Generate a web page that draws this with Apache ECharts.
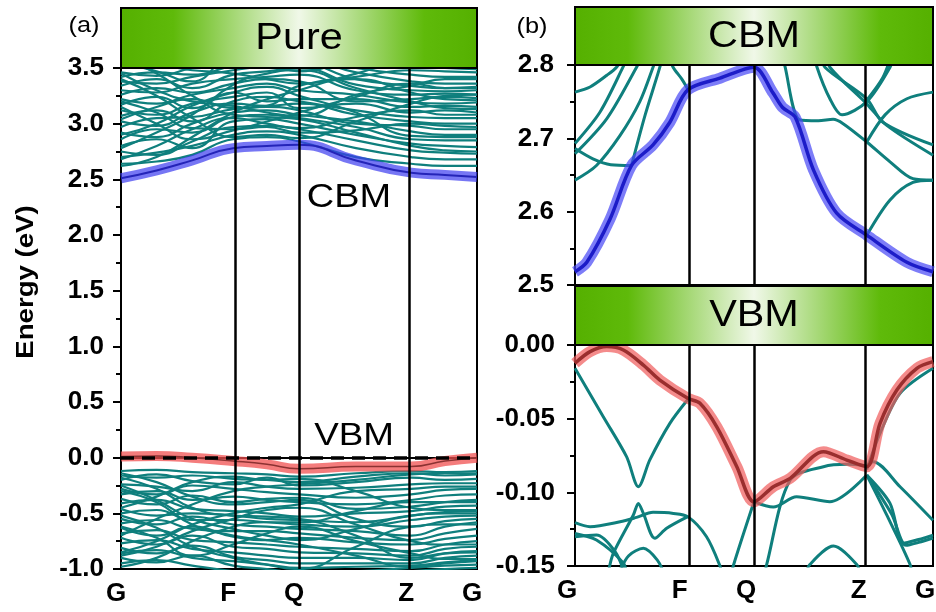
<!DOCTYPE html>
<html>
<head>
<meta charset="utf-8">
<script src="https://cdn.jsdelivr.net/npm/echarts@6/dist/echarts.min.js"></script>
<style>
html, body { margin: 0; padding: 0; background: #fff; }
#main { width: 936px; height: 612px; }
</style>
</head>
<body>
<div id="main"></div>
<script>
var chart = echarts.init(document.getElementById('main'));

// high-symmetry points of the k-path
var kNames = ['G', 'F', 'Q', 'Z', 'G'];
var kTicks = [0, 0.315, 0.5, 0.815, 1];

// (a) full bands, energies sampled at kA
var kA = [0, 0.1, 0.2, 0.315, 0.41, 0.5, 0.66, 0.815, 0.91, 1];
var cbmA = [2.51, 2.58, 2.67, 2.78, 2.80, 2.81, 2.67, 2.56, 2.54, 2.52];
var vbmA = [0.01, 0.015, 0.0, -0.03, -0.06, -0.10, -0.08, -0.08, -0.03, 0.0];

var condA = [
  [2.64, 2.66, 2.72, 2.86, 2.88, 2.84, 2.70, 2.64, 2.62, 2.62],
  [2.70, 2.74, 2.80, 2.90, 2.93, 2.90, 2.78, 2.70, 2.68, 2.68],
  [2.75, 2.72, 2.84, 2.97, 2.98, 2.95, 2.85, 2.76, 2.74, 2.73],
  [2.80, 2.86, 2.78, 3.02, 3.04, 3.00, 2.90, 2.82, 2.80, 2.79],
  [2.86, 2.95, 2.92, 3.06, 3.08, 3.05, 2.97, 2.86, 2.85, 2.85],
  [2.92, 2.88, 3.00, 3.10, 3.12, 3.08, 3.02, 2.93, 2.90, 2.90],
  [2.97, 3.05, 3.06, 3.13, 3.15, 3.12, 3.00, 2.98, 2.95, 2.95],
  [3.02, 2.98, 3.10, 3.18, 3.16, 3.18, 3.08, 3.02, 3.00, 3.00],
  [3.07, 3.12, 3.02, 3.20, 3.24, 3.20, 3.12, 3.06, 3.05, 3.05],
  [3.12, 3.08, 3.18, 3.24, 3.28, 3.14, 3.18, 3.10, 3.12, 3.10],
  [3.17, 3.24, 3.14, 3.28, 3.20, 3.22, 3.22, 3.15, 3.16, 3.15],
  [3.22, 3.18, 3.26, 3.32, 3.36, 3.30, 3.26, 3.19, 3.18, 3.19],
  [3.26, 3.32, 3.28, 3.36, 3.40, 3.38, 3.20, 3.22, 3.24, 3.23],
  [3.30, 3.28, 3.36, 3.40, 3.42, 3.44, 3.30, 3.26, 3.27, 3.26],
  [3.34, 3.40, 3.32, 3.44, 3.47, 3.50, 3.35, 3.30, 3.29, 3.30],
  [3.38, 3.36, 3.42, 3.48, 3.52, 3.54, 3.40, 3.34, 3.32, 3.33],
  [3.42, 3.46, 3.44, 3.52, 3.56, 3.58, 3.46, 3.38, 3.36, 3.36],
  [3.46, 3.43, 3.50, 3.56, 3.60, 3.60, 3.50, 3.44, 3.42, 3.42],
  [3.50, 3.52, 3.48, 3.45, 3.40, 3.36, 3.42, 3.48, 3.47, 3.46],
  [2.68, 2.80, 2.95, 3.05, 3.00, 2.96, 3.06, 3.12, 3.08, 3.08],
  [2.90, 3.00, 3.16, 3.28, 3.33, 3.25, 3.10, 2.89, 2.88, 2.88],
  [3.20, 3.10, 2.96, 2.95, 2.97, 2.92, 2.94, 3.00, 2.98, 2.97],
  [3.45, 3.30, 3.20, 3.16, 3.10, 3.07, 3.26, 3.34, 3.40, 3.40],
  [3.04, 3.15, 3.22, 3.14, 3.16, 3.34, 3.40, 3.28, 3.22, 3.21],
  [2.78, 2.92, 3.08, 3.35, 3.45, 3.48, 3.32, 3.20, 3.14, 3.13],
  [3.55, 3.47, 3.38, 3.60, 3.55, 3.47, 3.55, 3.52, 3.50, 3.49],
  [3.40, 3.25, 3.05, 2.88, 2.90, 2.87, 3.02, 3.18, 3.25, 3.26],
  [2.62, 2.70, 2.88, 3.10, 3.22, 3.30, 3.45, 3.55, 3.55, 3.55],
  [3.60, 3.45, 3.25, 3.08, 3.06, 3.04, 2.92, 2.80, 2.76, 2.75],
  [3.15, 3.00, 2.86, 2.94, 3.02, 3.10, 3.24, 3.36, 3.32, 3.32]
];

var valA = [
  [-0.12, -0.11, -0.13, -0.14, -0.15, -0.17, -0.14, -0.12, -0.13, -0.12],
  [-0.16, -0.18, -0.16, -0.19, -0.20, -0.22, -0.17, -0.14, -0.16, -0.15],
  [-0.20, -0.15, -0.21, -0.24, -0.18, -0.25, -0.22, -0.18, -0.20, -0.19],
  [-0.24, -0.26, -0.30, -0.22, -0.26, -0.28, -0.27, -0.24, -0.23, -0.23],
  [-0.28, -0.33, -0.25, -0.28, -0.31, -0.33, -0.36, -0.33, -0.29, -0.28],
  [-0.33, -0.30, -0.38, -0.35, -0.38, -0.40, -0.42, -0.38, -0.34, -0.33],
  [-0.37, -0.42, -0.34, -0.40, -0.37, -0.36, -0.46, -0.44, -0.40, -0.38],
  [-0.41, -0.38, -0.46, -0.48, -0.50, -0.53, -0.50, -0.48, -0.44, -0.43],
  [-0.46, -0.52, -0.50, -0.52, -0.55, -0.56, -0.58, -0.52, -0.49, -0.48],
  [-0.50, -0.47, -0.56, -0.56, -0.58, -0.60, -0.62, -0.56, -0.53, -0.52],
  [-0.55, -0.60, -0.53, -0.60, -0.62, -0.64, -0.66, -0.70, -0.62, -0.58],
  [-0.59, -0.56, -0.64, -0.66, -0.66, -0.68, -0.72, -0.74, -0.68, -0.64],
  [-0.63, -0.70, -0.62, -0.71, -0.74, -0.72, -0.76, -0.78, -0.73, -0.70],
  [-0.68, -0.65, -0.74, -0.76, -0.78, -0.80, -0.82, -0.84, -0.78, -0.75],
  [-0.72, -0.78, -0.70, -0.80, -0.82, -0.85, -0.86, -0.88, -0.82, -0.80],
  [-0.77, -0.74, -0.82, -0.85, -0.88, -0.90, -0.90, -0.92, -0.86, -0.84],
  [-0.81, -0.86, -0.79, -0.89, -0.92, -0.95, -0.95, -0.95, -0.90, -0.88],
  [-0.86, -0.83, -0.90, -0.93, -0.96, -0.99, -0.98, -0.97, -0.94, -0.92],
  [-0.90, -0.94, -0.88, -0.97, -1.00, -1.03, -1.02, -0.99, -0.97, -0.96],
  [-0.95, -0.92, -0.97, -1.02, -1.05, -1.08, -1.05, -1.02, -1.00, -0.99],
  [-0.14, -0.22, -0.35, -0.42, -0.40, -0.38, -0.55, -0.62, -0.57, -0.55],
  [-0.18, -0.28, -0.45, -0.52, -0.53, -0.55, -0.70, -0.90, -0.86, -0.85],
  [-0.30, -0.40, -0.60, -0.70, -0.74, -0.78, -0.88, -0.98, -0.95, -0.93],
  [-0.52, -0.63, -0.80, -0.90, -0.96, -1.00, -0.80, -0.62, -0.60, -0.60],
  [-0.98, -0.90, -0.75, -0.62, -0.58, -0.58, -0.48, -0.40, -0.40, -0.40],
  [-0.85, -0.75, -0.60, -0.50, -0.45, -0.42, -0.30, -0.28, -0.26, -0.26],
  [-0.70, -0.55, -0.42, -0.30, -0.26, -0.24, -0.20, -0.15, -0.14, -0.14],
  [-0.45, -0.35, -0.22, -0.17, -0.20, -0.19, -0.30, -0.45, -0.47, -0.47],
  [-0.62, -0.72, -0.88, -0.78, -0.68, -0.62, -0.75, -0.86, -0.91, -0.91],
  [-0.88, -0.80, -0.66, -0.55, -0.47, -0.45, -0.60, -0.75, -0.78, -0.78],
  [-0.25, -0.38, -0.55, -0.64, -0.70, -0.74, -0.64, -0.52, -0.50, -0.50]
];

// (b) zoom on the band edges, [k, E] pairs
var cbmB = [[0, 2.518], [0.033, 2.531], [0.098, 2.59], [0.158, 2.663], [0.218, 2.691],
  [0.265, 2.722], [0.315, 2.766], [0.405, 2.782], [0.5, 2.797], [0.553, 2.762],
  [0.58, 2.742], [0.615, 2.729], [0.666, 2.657], [0.731, 2.598], [0.815, 2.568],
  [0.927, 2.531], [1, 2.518]];

var condB = [
  [[0, 2.763], [0.042, 2.77], [0.089, 2.786], [0.116, 2.797], [0.14, 2.815]],
  [[0, 2.693], [0.07, 2.736], [0.134, 2.797], [0.15, 2.815]],
  [[0, 2.679], [0.089, 2.727], [0.172, 2.797], [0.19, 2.815]],
  [[0, 2.686], [0.05, 2.672], [0.1, 2.664], [0.158, 2.663]],
  [[0, 2.643], [0.06, 2.663], [0.126, 2.704], [0.181, 2.75], [0.218, 2.797], [0.23, 2.815]],
  [[0.158, 2.663], [0.196, 2.732], [0.237, 2.797], [0.245, 2.815]],
  [[0.26, 2.815], [0.274, 2.797], [0.298, 2.781], [0.315, 2.767]],
  [[0.582, 2.815], [0.587, 2.797], [0.628, 2.725], [0.68, 2.724], [0.721, 2.726],
    [0.749, 2.72], [0.815, 2.695], [0.88, 2.668], [0.944, 2.645], [1, 2.643]],
  [[0.815, 2.568], [0.88, 2.616], [0.944, 2.64], [1, 2.643]],
  [[0.815, 2.695], [0.866, 2.732], [0.927, 2.754], [1, 2.763]],
  [[0.67, 2.815], [0.676, 2.797], [0.712, 2.754], [0.746, 2.732], [0.815, 2.75],
    [0.88, 2.797], [0.89, 2.815]],
  [[0.69, 2.815], [0.698, 2.797], [0.815, 2.754], [0.86, 2.722], [1, 2.691]],
  [[0.705, 2.815], [0.712, 2.797], [0.815, 2.747], [0.87, 2.718], [1, 2.677]],
  [[0.815, 2.752], [0.86, 2.783], [0.885, 2.815]]
];

var vbmB = [[0, -0.0124], [0.042, -0.0045], [0.089, -0.0011], [0.135, -0.0034],
  [0.191, -0.0136], [0.237, -0.0238], [0.315, -0.0362], [0.349, -0.0396],
  [0.396, -0.0555], [0.452, -0.0826], [0.5, -0.1064], [0.554, -0.0962],
  [0.601, -0.0905], [0.694, -0.0724], [0.759, -0.0781], [0.815, -0.0826],
  [0.852, -0.0532], [0.899, -0.0306], [0.955, -0.0158], [1, -0.0113]];

var valB = [
  [[0, -0.0158], [0.079, -0.0487], [0.144, -0.0758], [0.177, -0.0962], [0.209, -0.078],
    [0.265, -0.0532], [0.315, -0.037]],
  [[0, -0.1206], [0.042, -0.1233], [0.126, -0.12], [0.172, -0.117], [0.218, -0.1136],
    [0.275, -0.1143], [0.315, -0.1165], [0.367, -0.13], [0.405, -0.15], [0.41, -0.156]],
  [[0, -0.1279], [0.06, -0.1324], [0.135, -0.148], [0.145, -0.156]],
  [[0, -0.1302], [0.06, -0.129], [0.112, -0.1403], [0.14, -0.156]],
  [[0.095, -0.152], [0.107, -0.1414], [0.163, -0.1154], [0.177, -0.1075], [0.191, -0.1143],
    [0.223, -0.1312], [0.256, -0.1244], [0.315, -0.1165]],
  [[0.12, -0.156], [0.15, -0.143], [0.191, -0.138], [0.23, -0.146], [0.25, -0.156]],
  [[0.438, -0.156], [0.442, -0.15], [0.5, -0.1064]],
  [[0.5, -0.1064], [0.554, -0.11], [0.619, -0.103], [0.712, -0.1064], [0.815, -0.0883]],
  [[0.53, -0.156], [0.535, -0.1494], [0.601, -0.0917], [0.694, -0.0826], [0.76, -0.081],
    [0.815, -0.082]],
  [[0.645, -0.156], [0.656, -0.149], [0.722, -0.1365], [0.787, -0.149], [0.797, -0.156]],
  [[0.815, -0.0845], [0.852, -0.06], [0.908, -0.0328], [1, -0.0158]],
  [[0.815, -0.082], [0.833, -0.0792], [0.908, -0.0962], [1, -0.119]],
  [[0.815, -0.0883], [0.88, -0.1075], [0.917, -0.1346], [0.96, -0.132], [1, -0.129]],
  [[0.815, -0.0883], [0.885, -0.115], [0.925, -0.136], [0.96, -0.134], [1, -0.131]],
  [[0.815, -0.0883], [0.87, -0.115], [0.936, -0.149], [0.94, -0.156]]
];

var teal = '#0f7f7d';
var font = '"Liberation Sans", Arial, sans-serif';

function pairs(ks, es) {
  return ks.map(function (k, i) { return [k, es[i]]; });
}

function band(g, data, color, width, z, smooth) {
  return {
    type: 'line', xAxisIndex: g, yAxisIndex: g, data: data,
    symbol: 'none', smooth: smooth, z: z, silent: true,
    lineStyle: { color: color, width: width }
  };
}

function kLabel(v) {
  for (var i = 0; i < kTicks.length; i++) {
    if (Math.abs(kTicks[i] - v) < 1e-6) return kNames[i];
  }
  return '';
}

// black verticals at F, Q, Z
function symLines() {
  return {
    silent: true, symbol: 'none', label: { show: false },
    lineStyle: { color: '#000', width: 2.5, type: 'solid' },
    data: kTicks.slice(1, 4).map(function (k) { return { xAxis: k }; })
  };
}

var series = [];

// panel (a)
condA.concat(valA).forEach(function (e, i) {
  var s = band(0, pairs(kA, e), teal, 2.2, 2, true);
  if (i == 0) s.markLine = symLines();
  series.push(s);
});
series.push(band(0, pairs(kA, cbmA), 'rgba(60,60,240,0.7)', 10, 3, true));
series.push(band(0, pairs(kA, cbmA), '#2424b8', 2, 4, true));
series.push(band(0, pairs(kA, vbmA), 'rgba(240,80,80,0.75)', 10, 3, true));
var redA = band(0, pairs(kA, vbmA), '#8c3232', 1.5, 4, true);
redA.markLine = {
  silent: true, symbol: 'none', label: { show: false }, z: 6,
  lineStyle: { color: '#000', width: 3.5, type: [13, 8] },
  data: [{ yAxis: 0 }]
};
series.push(redA);

// panel (b) CBM
condB.forEach(function (d, i) {
  var s = band(1, d, teal, 3, 2, 0.3);
  if (i == 0) s.markLine = symLines();
  series.push(s);
});
series.push(band(1, cbmB, 'rgba(70,70,245,0.7)', 11, 3, 0.3));
series.push(band(1, cbmB, '#1c1cc8', 3.5, 4, 0.3));

// panel (b) VBM
valB.forEach(function (d, i) {
  var s = band(2, d, teal, 3, 2, 0.3);
  if (i == 0) s.markLine = symLines();
  series.push(s);
});
series.push(band(2, vbmB, 'rgba(240,90,90,0.7)', 11, 3, 0.3));
series.push(band(2, vbmB, '#9a2e2e', 3.5, 4, 0.3));

var gridPos = [
  { left: 121, top: 68, width: 356, height: 501 },
  { left: 575, top: 65, width: 358, height: 220 },
  { left: 575, top: 345, width: 358, height: 221 }
];
var yRange = [
  { min: -1, max: 3.5, interval: 0.5, dec: 1, margin: 17 },
  { min: 2.5, max: 2.8, interval: 0.1, dec: 1, margin: 21 },
  { min: -0.15, max: 0, interval: 0.05, dec: 2, margin: 20 }
];
var xShift = [10, 16, 16];

var tickLine = { color: '#000', width: 2 };
var labelFont = { color: '#000', fontSize: 26, fontWeight: 'bold', fontFamily: font };

function header(x, y, w, h, text) {
  return [{
    type: 'rect', z: 100,
    shape: { x: x, y: y, width: w, height: h },
    style: {
      stroke: '#000', lineWidth: 2,
      fill: new echarts.graphic.LinearGradient(0, 0, 1, 0, [
        { offset: 0, color: '#55b000' },
        { offset: 0.15, color: '#5fba0a' },
        { offset: 0.5, color: '#f0f8e8' },
        { offset: 0.85, color: '#5fba0a' },
        { offset: 1, color: '#55b000' }
      ])
    }
  }, {
    type: 'text', z: 101, x: x + w / 2, y: y + h / 2 + 1, scaleX: 1.15,
    style: {
      text: text, fill: '#000', fontSize: 36, fontFamily: font,
      align: 'center', verticalAlign: 'middle',
      textAlign: 'center', textVerticalAlign: 'middle'
    }
  }];
}

function label(x, y, text, size, weight, rot, sx) {
  return {
    type: 'text', z: 101, x: x, y: y, rotation: rot || 0, scaleX: sx || 1.15,
    style: {
      text: text, fill: '#000', fontSize: size, fontWeight: weight, fontFamily: font,
      align: 'center', verticalAlign: 'middle',
      textAlign: 'center', textVerticalAlign: 'middle'
    }
  };
}

var graphics = []
  .concat(header(121, 8, 356, 60, 'Pure'))
  .concat(header(575, 7, 358, 58, 'CBM'))
  .concat(header(575, 286, 358, 59, 'VBM'))
  .concat([
    label(84, 26, '(a)', 22, 'normal'),
    label(532, 27, '(b)', 22, 'normal'),
    label(349, 198, 'CBM', 33, 'normal'),
    label(354, 436, 'VBM', 32, 'normal'),
    label(26, 282, 'Energy (eV)', 24, 'bold', Math.PI / 2, 1.15)
  ]);

var option = {
  animation: false,
  backgroundColor: '#fff',
  grid: gridPos.map(function (p) {
    return {
      left: p.left, top: p.top, width: p.width, height: p.height,
      outerBoundsMode: 'none', containLabel: false,
      show: true, borderColor: '#000', borderWidth: 2, backgroundColor: 'transparent'
    };
  }),
  xAxis: gridPos.map(function (p, i) {
    return {
      type: 'value', gridIndex: i, min: 0, max: 1,
      axisLine: { show: true, lineStyle: tickLine },
      axisTick: { show: false },
      splitLine: { show: false },
      axisLabel: Object.assign({
        show: i != 1, customValues: kTicks, formatter: kLabel, margin: 12,
        padding: [0, xShift[i], 0, 0]
      }, labelFont)
    };
  }),
  yAxis: yRange.map(function (r, i) {
    return {
      type: 'value', gridIndex: i, min: r.min, max: r.max, interval: r.interval,
      axisLine: { show: true, lineStyle: tickLine },
      axisTick: { show: true, inside: false, length: 8, lineStyle: tickLine },
      minorTick: { show: true, splitNumber: 2, length: 5, lineStyle: tickLine },
      splitLine: { show: false },
      axisLabel: Object.assign({
        margin: r.margin,
        formatter: function (v) { return v.toFixed(r.dec); }
      }, labelFont)
    };
  }),
  graphic: { elements: graphics },
  series: series
};

chart.setOption(option);
</script>
</body>
</html>
